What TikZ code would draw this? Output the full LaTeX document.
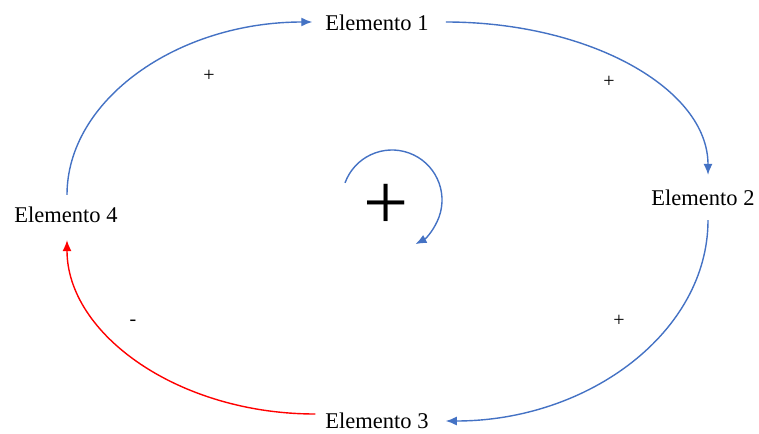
\documentclass[tikz,border=0pt]{standalone}
\usepackage{fontspec}
\setmainfont{Liberation Serif}
\usetikzlibrary{arrows.meta}
\definecolor{lblue}{RGB}{68,114,196}
\definecolor{lred}{RGB}{255,0,0}
\tikzset{
  elem/.style={inner sep=0pt, font=\fontsize{22.5}{24}\selectfont},
  sign/.style={inner sep=0pt, font=\fontsize{20}{22}\selectfont},
  conn/.style={line width=1.4pt, -{Latex[length=11pt,width=9pt]}},
  bluec/.style={conn, draw=lblue},
  redc/.style={conn, draw=lred}
}
\begin{document}
\begin{tikzpicture}[x=1pt,y=1pt]
\useasboundingbox (0,0) rectangle (759,-433);
\node[elem] (e1) at (377,-23) {Elemento 1};
\node[elem] (e2) at (703,-198) {Elemento 2};
\node[elem] (e3) at (377,-421) {Elemento 3};
\node[elem] (e4) at (66,-215) {Elemento 4};
% connectors
\draw[bluec] ([xshift=1pt,yshift=12pt]e4.north) .. controls +(0,95) and +(-135,0) .. ([xshift=-13pt,yshift=1pt]e1.west);
\draw[bluec] ([xshift=17pt,yshift=1pt]e1.east) .. controls +(144,0) and +(0,86) .. ([xshift=5pt,yshift=15pt]e2.north);
\draw[bluec] ([xshift=5pt,yshift=-14pt]e2.south) .. controls +(0,-111) and +(144,0) .. ([xshift=17pt]e3.east);
\draw[redc] ([xshift=-10pt,yshift=7pt]e3.west) .. controls +(-137,0) and +(0,-94) .. ([xshift=1pt,yshift=-17pt]e4.south);
% signs
\node[sign] (s1) at (209,-76) {+};
\node[sign] (s2) at (609,-82) {+};
\node[sign] (s3) at (619,-321) {+};
\node[sign] (s4) at (133,-323) {-};
% central loop
\coordinate (cc) at (392,-200);
\draw[bluec] ([shift={(160:50)}]cc) arc[start angle=160, end angle=-62, radius=50];
\node[inner sep=0pt, font=\fontsize{80}{80}\selectfont] (bigplus) at (386,-207) {+};
\end{tikzpicture}
\end{document}
